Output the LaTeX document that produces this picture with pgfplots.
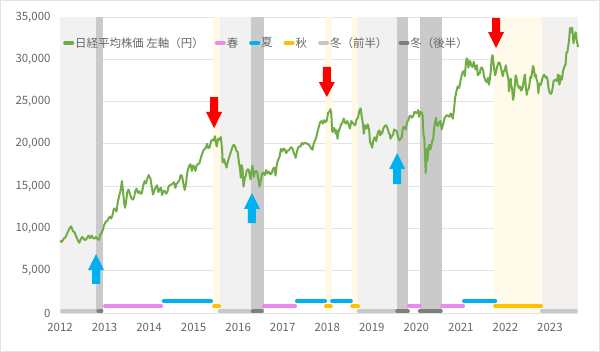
\documentclass[border=0pt]{standalone}
\usepackage{fontspec}
\setmainfont{Noto Sans CJK JP}
\usepackage{pgfplots}
\pgfplotsset{compat=1.18}
\definecolor{nkgreen}{HTML}{70AD47}
\definecolor{bandlt}{HTML}{F1F1F1}
\definecolor{bandlt2}{HTML}{F3F1EF}
\definecolor{banddk}{HTML}{CACACA}
\definecolor{bandyl}{HTML}{FFF9E6}
\definecolor{bandyl2}{HTML}{FFFAEA}
\definecolor{barlt}{HTML}{C8C8C8}
\definecolor{bardk}{HTML}{7F7F7F}
\definecolor{spring}{HTML}{EE88EE}
\definecolor{summer}{HTML}{00B0F0}
\definecolor{autumn}{HTML}{FFC000}
\definecolor{arrred}{HTML}{FF0000}
\definecolor{gridc}{HTML}{E3E3E3}
\definecolor{txt}{HTML}{666666}
\newcommand{\band}[3]{\addplot[fill=#3, draw=none, forget plot] coordinates {(#1,0) (#1,35000) (#2,35000) (#2,0)} -- cycle;}
\newcommand{\seg}[4]{\addplot[color=#4, line width=4bp, line cap=round, forget plot] coordinates {(#1,#3) (#2,#3)};}
\pgfplotstableread{
x y
2012.00 8560
2012.04 8400
2012.08 8770
2012.12 8930
2012.16 9380
2012.20 9870
2012.23 10130
2012.25 10250
2012.29 9690
2012.33 9520
2012.37 8950
2012.40 8610
2012.43 8300
2012.46 8650
2012.50 9000
2012.54 8720
2012.57 8630
2012.61 8890
2012.64 9160
2012.67 8840
2012.71 9160
2012.74 8870
2012.78 8800
2012.81 9000
2012.85 8700
2012.88 8660
2012.90 9250
2012.93 9450
2012.96 9800
2012.99 10400
2013.03 10800
2013.06 10900
2013.09 11190
2013.12 11400
2013.15 11170
2013.18 11600
2013.21 12350
2013.24 12340
2013.27 12000
2013.30 13200
2013.33 13880
2013.36 14500
2013.39 15600
2013.42 14100
2013.44 13000
2013.46 12450
2013.48 13000
2013.51 14300
2013.54 14600
2013.57 14100
2013.60 13600
2013.63 13400
2013.66 13600
2013.69 14400
2013.72 14700
2013.75 14200
2013.78 14400
2013.81 14100
2013.84 14200
2013.87 15100
2013.90 15600
2013.93 15300
2013.96 15900
2013.99 16300
2014.03 15900
2014.06 14900
2014.09 14000
2014.12 14500
2014.15 14900
2014.18 15100
2014.21 14300
2014.24 14700
2014.27 14800
2014.29 13950
2014.32 14400
2014.35 14450
2014.38 14100
2014.41 14300
2014.44 15000
2014.47 15100
2014.50 15200
2014.53 15300
2014.56 15450
2014.59 14800
2014.62 15300
2014.65 15450
2014.68 15700
2014.71 16300
2014.74 16200
2014.77 15300
2014.80 14550
2014.83 15300
2014.85 16400
2014.88 17100
2014.90 17400
2014.93 17600
2014.96 16800
2014.99 17450
2015.02 17200
2015.04 16800
2015.07 17500
2015.10 17600
2015.13 17700
2015.16 18300
2015.19 18800
2015.22 19250
2015.25 19400
2015.28 19600
2015.30 20000
2015.33 19500
2015.36 19600
2015.39 20300
2015.42 20500
2015.45 20400
2015.48 20900
2015.50 20100
2015.52 19700
2015.55 20600
2015.58 20500
2015.61 20800
2015.64 19400
2015.65 17800
2015.68 18200
2015.71 17700
2015.74 17200
2015.76 17700
2015.79 18300
2015.82 18800
2015.84 19100
2015.87 19600
2015.90 19900
2015.93 19700
2015.96 19200
2015.99 19000
2016.02 17700
2016.04 17100
2016.06 16000
2016.08 17500
2016.10 17000
2016.12 14950
2016.15 16000
2016.17 16200
2016.19 16800
2016.22 17000
2016.24 16900
2016.26 16200
2016.28 15800
2016.30 16800
2016.32 17400
2016.35 16100
2016.38 16700
2016.41 16800
2016.43 16600
2016.46 15600
2016.48 14950
2016.51 15700
2016.54 16500
2016.57 16600
2016.60 16300
2016.63 16900
2016.66 16500
2016.69 16700
2016.72 16400
2016.75 16500
2016.78 17000
2016.81 17200
2016.84 16250
2016.87 17700
2016.90 18100
2016.93 18500
2016.96 19400
2016.99 19100
2017.02 19450
2017.05 19300
2017.08 18900
2017.11 19200
2017.14 19250
2017.17 19500
2017.20 19600
2017.23 19300
2017.25 18900
2017.27 18700
2017.29 18350
2017.32 19100
2017.35 19600
2017.38 19700
2017.40 19700
2017.43 20100
2017.46 19950
2017.49 20100
2017.52 20100
2017.55 20000
2017.58 19950
2017.61 19750
2017.64 19450
2017.67 19300
2017.69 19900
2017.72 20350
2017.75 20700
2017.78 21400
2017.81 22000
2017.84 22550
2017.87 22700
2017.90 22400
2017.93 22800
2017.96 22550
2017.99 22760
2018.02 23700
2018.05 23800
2018.07 24100
2018.09 23600
2018.11 21600
2018.12 21400
2018.15 21900
2018.17 21700
2018.19 21200
2018.21 21600
2018.23 20600
2018.25 21400
2018.28 21800
2018.31 22300
2018.34 22500
2018.37 23000
2018.40 22500
2018.42 22400
2018.45 22700
2018.48 22300
2018.51 21800
2018.54 22700
2018.57 22500
2018.60 22300
2018.63 22200
2018.66 22900
2018.69 23100
2018.72 23900
2018.75 24200
2018.78 23000
2018.80 22500
2018.82 21200
2018.85 22200
2018.88 21800
2018.91 22300
2018.94 21700
2018.96 20200
2018.98 20000
2019.01 19560
2019.03 20360
2019.05 20670
2019.07 20770
2019.10 20330
2019.12 20900
2019.14 21400
2019.17 21600
2019.19 21000
2019.21 21400
2019.23 21200
2019.26 21800
2019.29 22100
2019.32 22200
2019.35 21900
2019.38 21300
2019.40 21200
2019.42 20600
2019.45 20900
2019.48 21100
2019.50 21700
2019.53 21600
2019.56 21500
2019.59 20700
2019.62 20400
2019.65 20700
2019.67 20700
2019.70 21900
2019.73 22000
2019.76 21700
2019.79 22500
2019.82 22800
2019.85 23300
2019.88 23300
2019.90 23100
2019.93 23300
2019.96 23800
2019.99 23650
2020.02 23700
2020.04 24000
2020.06 23200
2020.09 23800
2020.12 23700
2020.14 23400
2020.16 21100
2020.18 20700
2020.20 18000
2020.21 16550
2020.23 19400
2020.25 18000
2020.27 19500
2020.29 19900
2020.31 19300
2020.33 19600
2020.36 20400
2020.38 20600
2020.40 21900
2020.43 22800
2020.44 23100
2020.46 22300
2020.48 22100
2020.51 22500
2020.54 22700
2020.57 21700
2020.60 22300
2020.63 23000
2020.65 23200
2020.68 23400
2020.71 23300
2020.74 23200
2020.77 23600
2020.79 23400
2020.82 22977
2020.85 24300
2020.87 25400
2020.90 26200
2020.93 26800
2020.96 26600
2020.99 27400
2021.02 28100
2021.04 28500
2021.07 28600
2021.09 28000
2021.11 29400
2021.13 30100
2021.15 30000
2021.17 29000
2021.19 29700
2021.21 29800
2021.23 29300
2021.26 29100
2021.29 29700
2021.31 29200
2021.33 28800
2021.36 29300
2021.38 28100
2021.40 28300
2021.42 28300
2021.45 29000
2021.48 29000
2021.50 28700
2021.52 28000
2021.55 27500
2021.58 27300
2021.61 27800
2021.63 27000
2021.65 27600
2021.67 28500
2021.69 30000
2021.71 30500
2021.73 29700
2021.75 28800
2021.77 28100
2021.79 28500
2021.81 29000
2021.84 29600
2021.87 29600
2021.90 29000
2021.92 28500
2021.94 28000
2021.96 28500
2021.99 28800
2022.01 29300
2022.03 28500
2022.05 28100
2022.07 27500
2022.08 26200
2022.10 27200
2022.12 27700
2022.13 27000
2022.15 26500
2022.17 25200
2022.19 25700
2022.21 26800
2022.23 28100
2022.25 27800
2022.27 27000
2022.29 26800
2022.31 26600
2022.33 26800
2022.35 26300
2022.37 26400
2022.39 26700
2022.42 27800
2022.44 28200
2022.46 26600
2022.48 25800
2022.50 26400
2022.52 26500
2022.54 27000
2022.56 27900
2022.58 27800
2022.60 28500
2022.62 29200
2022.64 28800
2022.66 28000
2022.68 28200
2022.70 27600
2022.72 27300
2022.74 26000
2022.76 27100
2022.78 26900
2022.80 27100
2022.82 27500
2022.84 27900
2022.87 28200
2022.89 28000
2022.91 27800
2022.93 27900
2022.95 27500
2022.97 26500
2022.99 26100
2023.02 25900
2023.04 26100
2023.06 26550
2023.08 27400
2023.10 27500
2023.12 27600
2023.14 27500
2023.16 27400
2023.18 28200
2023.20 28100
2023.21 27000
2023.23 27400
2023.25 28000
2023.27 27600
2023.29 28500
2023.31 28900
2023.33 29200
2023.35 29400
2023.37 30800
2023.39 30800
2023.41 31500
2023.43 32300
2023.45 33700
2023.47 33300
2023.49 33200
2023.50 33750
2023.52 32400
2023.53 31900
2023.55 32700
2023.58 33200
2023.60 32200
2023.62 31800
2023.63 31450
}\nikkei
\begin{document}
\begin{tikzpicture}
\begin{axis}[
  scale only axis, width=518bp, height=296bp,
  xmin=2012, xmax=2023.63, ymin=0, ymax=35000,
  clip=false,
  axis line style={draw=none}, tick style={draw=none},
  xtick={2012,2013,...,2023},
  xticklabels={2012,2013,2014,2015,2016,2017,2018,2019,2020,2021,2022,2023},
  ytick={0,5000,...,35000},
  ymajorgrids, grid style={color=gridc, line width=0.8bp},
  scaled y ticks=false,
  /pgf/number format/1000 sep={,},
  /pgf/number format/assume math mode=true,
  yticklabel style={xshift=-6bp},
  xticklabel style={yshift=-7bp},
  ticklabel style={font=\fontsize{11.5}{13}\selectfont, text=txt},
  legend style={at={(0.0,0.912)}, anchor=west, draw=none, fill=none,
     font=\fontsize{11.5}{13}\selectfont, text=txt,
     /tikz/every even column/.append style={column sep=10bp},
     nodes={inner sep=1bp}},
  legend columns=6,
  legend image code/.code={\draw[#1, line width=3.5bp, line cap=round] (1.5bp,0bp) -- (9bp,0bp);},
]
% background bands
\band{2012.00}{2012.81}{bandlt}
\band{2012.81}{2012.97}{banddk}
\band{2015.43}{2015.59}{bandyl}
\band{2015.59}{2016.29}{bandlt}
\band{2016.29}{2016.58}{banddk}
\band{2017.95}{2018.11}{bandyl}
\band{2018.56}{2018.69}{bandyl}
\band{2018.69}{2019.57}{bandlt}
\band{2019.57}{2019.81}{banddk}
\band{2020.08}{2020.58}{banddk}
\band{2021.74}{2022.82}{bandyl2}
\band{2022.82}{2023.63}{bandlt2}
% season bars
\seg{2012.05}{2012.79}{200}{barlt}
\seg{2012.86}{2012.93}{200}{bardk}
\seg{2013.01}{2014.27}{800}{spring}
\seg{2014.33}{2015.39}{1400}{summer}
\seg{2015.46}{2015.57}{800}{autumn}
\seg{2015.59}{2016.27}{200}{barlt}
\seg{2016.33}{2016.53}{200}{bardk}
\seg{2016.58}{2017.28}{800}{spring}
\seg{2017.32}{2017.95}{1400}{summer}
\seg{2017.97}{2018.08}{800}{autumn}
\seg{2018.11}{2018.53}{1400}{summer}
\seg{2018.56}{2018.69}{800}{autumn}
\seg{2018.71}{2019.52}{200}{barlt}
\seg{2019.57}{2019.81}{200}{bardk}
\seg{2019.83}{2020.08}{800}{spring}
\seg{2020.08}{2020.55}{200}{bardk}
\seg{2020.58}{2021.05}{800}{spring}
\seg{2021.07}{2021.77}{1400}{summer}
\seg{2021.77}{2022.80}{800}{autumn}
\seg{2022.82}{2023.58}{200}{barlt}
% Nikkei line
\addplot[color=nkgreen, line width=2bp, line join=round] table[x=x,y=y] {\nikkei};
\addlegendentry{日経平均株価 左軸（円）}
\addlegendimage{spring}\addlegendentry{春}
\addlegendimage{summer}\addlegendentry{夏}
\addlegendimage{autumn}\addlegendentry{秋}
\addlegendimage{barlt}\addlegendentry{冬（前半）}
\addlegendimage{bardk}\addlegendentry{冬（後半）}
% arrows
\addplot[fill=arrred, draw=none, forget plot] coordinates {(2015.37,25540) (2015.55,25540) (2015.55,23770) (2015.64,23770) (2015.46,21870) (2015.28,23770) (2015.37,23770)} -- cycle;
\addplot[fill=arrred, draw=none, forget plot] coordinates {(2017.90,29090) (2018.08,29090) (2018.08,27310) (2018.17,27310) (2017.99,25540) (2017.81,27310) (2017.90,27310)} -- cycle;
\addplot[fill=arrred, draw=none, forget plot] coordinates {(2021.70,34900) (2021.88,34900) (2021.88,33220) (2021.97,33220) (2021.79,31330) (2021.61,33220) (2021.70,33220)} -- cycle;
\addplot[fill=summer, draw=none, forget plot] coordinates {(2012.72,3430) (2012.90,3430) (2012.90,5080) (2012.99,5080) (2012.81,6980) (2012.63,5080) (2012.72,5080)} -- cycle;
\addplot[fill=summer, draw=none, forget plot] coordinates {(2016.22,10640) (2016.40,10640) (2016.40,12300) (2016.49,12300) (2016.31,14190) (2016.13,12300) (2016.22,12300)} -- cycle;
\addplot[fill=summer, draw=none, forget plot] coordinates {(2019.48,15250) (2019.66,15250) (2019.66,17030) (2019.75,17030) (2019.57,18920) (2019.39,17030) (2019.48,17030)} -- cycle;
\end{axis}
\pgfresetboundingbox
\path[use as bounding box] ([shift={(-60bp,-39bp)}]current axis.south west) rectangle ([shift={(22bp,17bp)}]current axis.north east);
\draw[color=gridc, line width=0.6bp] ([shift={(-59.5bp,-38.5bp)}]current axis.south west) rectangle ([shift={(21.5bp,16.5bp)}]current axis.north east);
\end{tikzpicture}
\end{document}
